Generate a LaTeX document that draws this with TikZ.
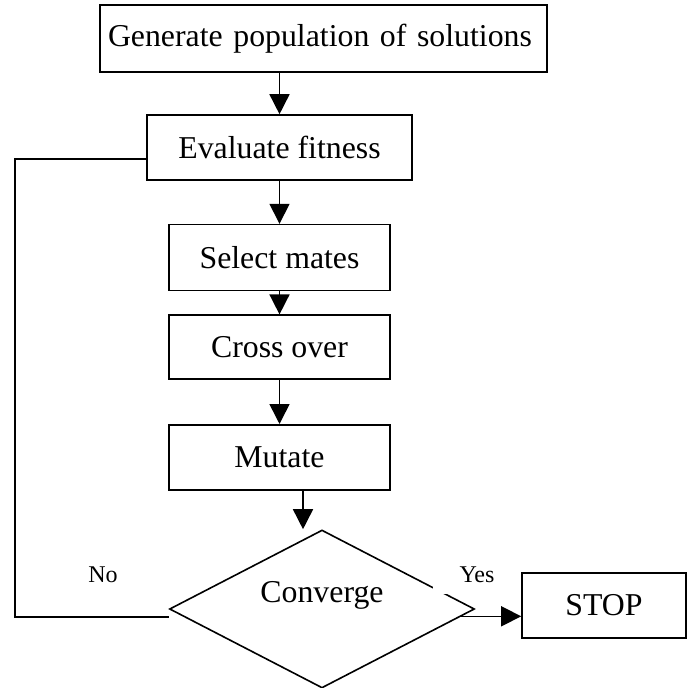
\documentclass[tikz,border=0pt]{standalone}
\usepackage{fontspec}
\setmainfont{Liberation Serif}
\usetikzlibrary{positioning,shapes.geometric,arrows.meta}
\newcommand{\flowfont}{\fontsize{15.9}{19}\selectfont}
\tikzset{box/.style={draw,rectangle,line width=0.8pt,inner sep=0pt,font=\flowfont},
  decision/.style={draw,diamond,line width=0.8pt,inner sep=0pt},
  flow/.style={line width=0.8pt,-{Triangle[length=10pt,width=10pt]}},
  tag/.style={font=\fontsize{12}{14}\selectfont}}

\begin{document}
\begin{tikzpicture}[x=0.5pt,y=-0.5pt]
\useasboundingbox (0,0) rectangle (687,688);

\node[box,text width=215.5pt,inner xsep=4pt,minimum height=33.5pt,align=left] (gen) at (323.5,38.5) {Generate population of solutions};
\node[box,minimum width=132.5pt,minimum height=32.5pt] (eval) at (279.5,147.5) {Evaluate fitness};
\node[box,minimum width=110.5pt,minimum height=33pt,below=21.5pt of eval] (select) {Select mates};
\node[box,minimum width=110.5pt,minimum height=32pt,below=11.5pt of select] (cross) {Cross over};
\node[box,minimum width=110.5pt,minimum height=32.5pt,below=22pt of cross] (mutate) {Mutate};

\node[decision,minimum width=152.5pt,minimum height=79pt,label={[font=\flowfont,yshift=7pt]center:Converge}] (conv) at (322,609) {};
\node[tag] (no) at (103,575) {No};
\node[tag,fill=white,minimum width=44pt,minimum height=19pt] (yes) at (477,575) {Yes};
\node[box,minimum width=82pt,minimum height=32.5pt] (stop) at (604,605.5) {STOP};

\coordinate (drop) at ([xshift=11.75pt]mutate.south);
\coordinate (back) at (15,617);

\draw[flow] (gen.south -| eval.north) -- (eval.north);
\draw[flow] (eval) -- (select);
\draw[flow] (select) -- (cross);
\draw[flow] (cross) -- (mutate);
\draw[flow] (drop) -- (drop |- conv.north);
\draw[flow] (conv.-3.3) -- (conv.-3.3 -| stop.west);
\draw[line width=0.8pt] ([yshift=-4pt]conv.west) -- (back) |- ([yshift=-5.75pt]eval.west);
\end{tikzpicture}
\end{document}
